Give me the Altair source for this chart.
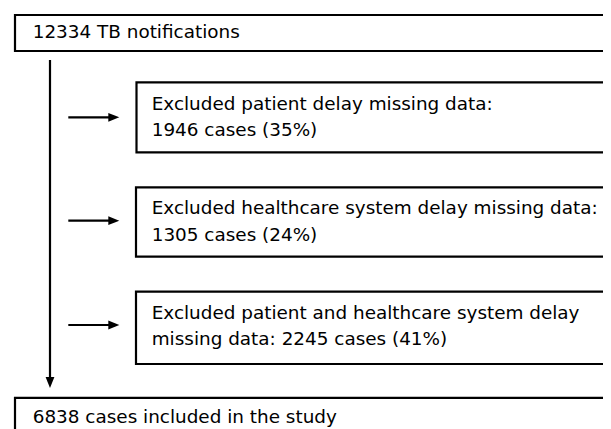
import altair as alt
import pandas as pd

# ---- content (flowchart text) ----
top_label = "12334 TB notifications"
excluded_line1 = [
    "Excluded patient delay missing data:",
    "Excluded healthcare system delay missing data:",
    "Excluded patient and healthcare system delay",
]
excluded_line2 = [
    "1946 cases (35%)",
    "1305 cases (24%)",
    "missing data: 2245 cases (41%)",
]
bottom_label = "6838 cases included in the study"

# ---- layout (page pixel coordinates) ----
FONT = "DejaVu Sans"
FS = 18.4
SW = 2.2
RIGHT = 700
box_x = [15, 136.5, 136, 136, 15]
box_y = [15, 82.3, 187.3, 291.7, 397.8]
box_y2 = [51, 152.3, 256.7, 364, 470]
arrow_y = [117.3, 220.7, 325]
text_x_outer = 32.7
text_x_inner = 151.7
line1_y = [103.5, 208, 312.5]
line2_y = [130, 234.5, 339]
main_x = 50
main_y_top = 60
main_tip = 388
head_len = 11

boxes = pd.DataFrame({"x": box_x, "x2": [RIGHT] * 5, "y": box_y, "y2": box_y2})

rules = pd.DataFrame({
    "x": [main_x] + [68.3] * 3,
    "x2": [main_x] + [112] * 3,
    "y": [main_y_top] + arrow_y,
    "y2": [main_tip - 6] + arrow_y,
})

heads = pd.DataFrame({
    "x": [119.3 - head_len / 2] * 3 + [main_x],
    "y": arrow_y + [main_tip - head_len / 2],
    "angle": [0, 0, 0, 90],
})

texts = pd.DataFrame({
    "x": [text_x_outer] + [text_x_inner] * 6 + [text_x_outer],
    "y": [32] + line1_y + line2_y + [416.5],
    "t": [top_label] + excluded_line1 + excluded_line2 + [bottom_label],
})

W, H = 595, 421
xs = alt.Scale(domain=[8, 8 + W], nice=False, zero=False)
ys = alt.Scale(domain=[8 + H, 8], nice=False, zero=False)

def X(f="x"):
    return alt.X(f"{f}:Q", scale=xs, axis=None)

def Y(f="y"):
    return alt.Y(f"{f}:Q", scale=ys, axis=None)

box_layer = alt.Chart(boxes).mark_rect(
    fill="white", stroke="black", strokeWidth=SW, clip=True
).encode(x=X(), x2="x2:Q", y=Y(), y2="y2:Q")

rule_layer = alt.Chart(rules).mark_rule(
    color="black", strokeWidth=SW, clip=True
).encode(x=X(), x2="x2:Q", y=Y(), y2="y2:Q")

head_layer = alt.Chart(heads).mark_point(
    shape="M-1,-0.8L1,0L-1,0.8Z", filled=True, fill="black",
    stroke=None, opacity=1, size=head_len ** 2, clip=True
).encode(x=X(), y=Y(), angle=alt.Angle("angle:Q", scale=None))

text_layer = alt.Chart(texts).mark_text(
    align="left", baseline="middle", font=FONT, fontSize=FS, color="black", clip=True
).encode(x=X(), y=Y(), text="t:N")

chart = alt.layer(box_layer, rule_layer, head_layer, text_layer).properties(
    width=W, height=H, padding=0, autosize=alt.AutoSizeParams(type="none"),
    background="white",
).configure_view(stroke=None)

chart.save("out.html", embed_options={"renderer": "svg", "actions": False})
